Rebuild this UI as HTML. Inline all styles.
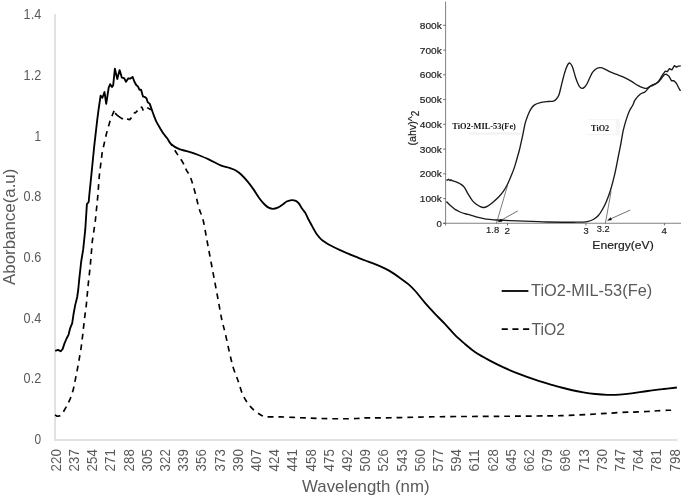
<!DOCTYPE html>
<html><head><meta charset="utf-8"><title>UV-Vis absorbance</title>
<style>
html,body{margin:0;padding:0;background:#fff}
svg{display:block}
text{font-family:"Liberation Sans",sans-serif}
.cal{fill:#595959}
.ins{fill:#1c1c1c;stroke:#1c1c1c;stroke-width:.18px}
.ser{font-family:"Liberation Serif",serif;font-weight:bold;fill:#111}
</style></head><body>
<svg width="685" height="498" viewBox="0 0 685 498">
<rect width="685" height="498" fill="#fff"/>

<path d="M55.05,14.3 V440.6" stroke="#d9d9d9" stroke-width="1.5" fill="none"/>
<path d="M54.3,439.9 H677.5" stroke="#d9d9d9" stroke-width="1.5" fill="none"/>
<text class="cal" x="41.2" y="19.20" font-size="14.2" text-anchor="end" textLength="17.6" lengthAdjust="spacingAndGlyphs">1.4</text>
<text class="cal" x="41.2" y="79.92" font-size="14.2" text-anchor="end" textLength="17.6" lengthAdjust="spacingAndGlyphs">1.2</text>
<text class="cal" x="41.2" y="140.63" font-size="14.2" text-anchor="end" textLength="6.6" lengthAdjust="spacingAndGlyphs">1</text>
<text class="cal" x="41.2" y="201.34" font-size="14.2" text-anchor="end" textLength="17.6" lengthAdjust="spacingAndGlyphs">0.8</text>
<text class="cal" x="41.2" y="262.06" font-size="14.2" text-anchor="end" textLength="17.6" lengthAdjust="spacingAndGlyphs">0.6</text>
<text class="cal" x="41.2" y="322.77" font-size="14.2" text-anchor="end" textLength="17.6" lengthAdjust="spacingAndGlyphs">0.4</text>
<text class="cal" x="41.2" y="383.49" font-size="14.2" text-anchor="end" textLength="17.6" lengthAdjust="spacingAndGlyphs">0.2</text>
<text class="cal" x="41.2" y="444.20" font-size="14.2" text-anchor="end" textLength="6.6" lengthAdjust="spacingAndGlyphs">0</text>
<text class="cal" font-size="14.2" transform="translate(60.80,471.4) rotate(-90)" textLength="22.2" lengthAdjust="spacingAndGlyphs">220</text>
<text class="cal" font-size="14.2" transform="translate(79.00,471.4) rotate(-90)" textLength="22.2" lengthAdjust="spacingAndGlyphs">237</text>
<text class="cal" font-size="14.2" transform="translate(97.20,471.4) rotate(-90)" textLength="22.2" lengthAdjust="spacingAndGlyphs">254</text>
<text class="cal" font-size="14.2" transform="translate(115.40,471.4) rotate(-90)" textLength="22.2" lengthAdjust="spacingAndGlyphs">271</text>
<text class="cal" font-size="14.2" transform="translate(133.60,471.4) rotate(-90)" textLength="22.2" lengthAdjust="spacingAndGlyphs">288</text>
<text class="cal" font-size="14.2" transform="translate(151.80,471.4) rotate(-90)" textLength="22.2" lengthAdjust="spacingAndGlyphs">305</text>
<text class="cal" font-size="14.2" transform="translate(170.00,471.4) rotate(-90)" textLength="22.2" lengthAdjust="spacingAndGlyphs">322</text>
<text class="cal" font-size="14.2" transform="translate(188.20,471.4) rotate(-90)" textLength="22.2" lengthAdjust="spacingAndGlyphs">339</text>
<text class="cal" font-size="14.2" transform="translate(206.40,471.4) rotate(-90)" textLength="22.2" lengthAdjust="spacingAndGlyphs">356</text>
<text class="cal" font-size="14.2" transform="translate(224.60,471.4) rotate(-90)" textLength="22.2" lengthAdjust="spacingAndGlyphs">373</text>
<text class="cal" font-size="14.2" transform="translate(242.80,471.4) rotate(-90)" textLength="22.2" lengthAdjust="spacingAndGlyphs">390</text>
<text class="cal" font-size="14.2" transform="translate(261.00,471.4) rotate(-90)" textLength="22.2" lengthAdjust="spacingAndGlyphs">407</text>
<text class="cal" font-size="14.2" transform="translate(279.20,471.4) rotate(-90)" textLength="22.2" lengthAdjust="spacingAndGlyphs">424</text>
<text class="cal" font-size="14.2" transform="translate(297.40,471.4) rotate(-90)" textLength="22.2" lengthAdjust="spacingAndGlyphs">441</text>
<text class="cal" font-size="14.2" transform="translate(315.60,471.4) rotate(-90)" textLength="22.2" lengthAdjust="spacingAndGlyphs">458</text>
<text class="cal" font-size="14.2" transform="translate(333.80,471.4) rotate(-90)" textLength="22.2" lengthAdjust="spacingAndGlyphs">475</text>
<text class="cal" font-size="14.2" transform="translate(352.00,471.4) rotate(-90)" textLength="22.2" lengthAdjust="spacingAndGlyphs">492</text>
<text class="cal" font-size="14.2" transform="translate(370.20,471.4) rotate(-90)" textLength="22.2" lengthAdjust="spacingAndGlyphs">509</text>
<text class="cal" font-size="14.2" transform="translate(388.40,471.4) rotate(-90)" textLength="22.2" lengthAdjust="spacingAndGlyphs">526</text>
<text class="cal" font-size="14.2" transform="translate(406.60,471.4) rotate(-90)" textLength="22.2" lengthAdjust="spacingAndGlyphs">543</text>
<text class="cal" font-size="14.2" transform="translate(424.80,471.4) rotate(-90)" textLength="22.2" lengthAdjust="spacingAndGlyphs">560</text>
<text class="cal" font-size="14.2" transform="translate(443.00,471.4) rotate(-90)" textLength="22.2" lengthAdjust="spacingAndGlyphs">577</text>
<text class="cal" font-size="14.2" transform="translate(461.20,471.4) rotate(-90)" textLength="22.2" lengthAdjust="spacingAndGlyphs">594</text>
<text class="cal" font-size="14.2" transform="translate(479.40,471.4) rotate(-90)" textLength="22.2" lengthAdjust="spacingAndGlyphs">611</text>
<text class="cal" font-size="14.2" transform="translate(497.60,471.4) rotate(-90)" textLength="22.2" lengthAdjust="spacingAndGlyphs">628</text>
<text class="cal" font-size="14.2" transform="translate(515.80,471.4) rotate(-90)" textLength="22.2" lengthAdjust="spacingAndGlyphs">645</text>
<text class="cal" font-size="14.2" transform="translate(534.00,471.4) rotate(-90)" textLength="22.2" lengthAdjust="spacingAndGlyphs">662</text>
<text class="cal" font-size="14.2" transform="translate(552.20,471.4) rotate(-90)" textLength="22.2" lengthAdjust="spacingAndGlyphs">679</text>
<text class="cal" font-size="14.2" transform="translate(570.40,471.4) rotate(-90)" textLength="22.2" lengthAdjust="spacingAndGlyphs">696</text>
<text class="cal" font-size="14.2" transform="translate(588.60,471.4) rotate(-90)" textLength="22.2" lengthAdjust="spacingAndGlyphs">713</text>
<text class="cal" font-size="14.2" transform="translate(606.80,471.4) rotate(-90)" textLength="22.2" lengthAdjust="spacingAndGlyphs">730</text>
<text class="cal" font-size="14.2" transform="translate(625.00,471.4) rotate(-90)" textLength="22.2" lengthAdjust="spacingAndGlyphs">747</text>
<text class="cal" font-size="14.2" transform="translate(643.20,471.4) rotate(-90)" textLength="22.2" lengthAdjust="spacingAndGlyphs">764</text>
<text class="cal" font-size="14.2" transform="translate(661.40,471.4) rotate(-90)" textLength="22.2" lengthAdjust="spacingAndGlyphs">781</text>
<text class="cal" font-size="14.2" transform="translate(679.60,471.4) rotate(-90)" textLength="22.2" lengthAdjust="spacingAndGlyphs">798</text>
<text class="cal" font-size="16.4" transform="translate(14.9,284.9) rotate(-90)" textLength="116.2" lengthAdjust="spacingAndGlyphs">Aborbance(a.u)</text>
<text class="cal" font-size="16.4" x="302.1" y="491.9" textLength="127.4" lengthAdjust="spacingAndGlyphs">Wavelength (nm)</text>
<path d="M55.00,414.90 L57.10,416.30 L59.70,415.90 L63.10,412.30 L66.10,407.20 L70.10,399.20 L73.20,390.10 L74.70,382.80 L77.20,370.20 L79.20,359.20 L81.20,347.10 L82.70,335.00 L83.20,330.30 L84.70,317.20 L86.30,305.10 L87.50,292.00 L88.30,283.60 L90.30,265.50 L92.30,241.30 L95.30,221.20 L97.90,195.00 L99.20,176.60 L102.20,152.40 L106.30,134.20 L110.30,120.10 L112.60,114.50 L114.10,110.90" stroke="#000" stroke-width="1.65" fill="none" stroke-linejoin="round" stroke-dasharray="5.8 4.95"/>
<path d="M115.1,113.1 L117.3,115.3 L120.5,117.6 L122.3,118.7 L122.9,118.3 M127,119 L129.7,119.6 L131.5,117.6 M133.7,112.4 L135.2,113 L137.5,110.6 M140.7,107.1 L141.9,107.3 L143.3,110.6 M147.2,107.6 L150.9,109.7" stroke="#000" stroke-width="1.65" fill="none" stroke-linejoin="round"/>
<path d="M671.10,410.20 C670.58,410.22 670.27,410.20 668.00,410.30 C665.73,410.40 661.00,410.60 657.50,410.80 C654.00,411.00 651.08,411.28 647.00,411.50 C642.92,411.72 636.23,412.00 633.00,412.10 C629.77,412.20 631.87,411.90 627.60,412.10 C623.33,412.30 614.12,412.90 607.40,413.30 C600.68,413.70 594.02,414.13 587.30,414.50 C580.58,414.87 573.82,415.27 567.10,415.50 C560.38,415.73 558.18,415.77 547.00,415.90 C535.82,416.03 517.83,416.17 500.00,416.30 C482.17,416.43 456.67,416.48 440.00,416.70 C423.33,416.92 410.33,417.40 400.00,417.60 C389.67,417.80 383.85,417.85 378.00,417.90 C372.15,417.95 368.43,417.80 364.90,417.90 C361.37,418.00 360.83,418.35 356.80,418.50 C352.77,418.65 346.73,418.80 340.70,418.80 C334.67,418.80 327.32,418.68 320.60,418.50 C313.88,418.32 307.12,417.97 300.40,417.70 C293.68,417.43 286.00,417.07 280.30,416.90 C274.60,416.73 269.52,417.07 266.20,416.70 C262.88,416.33 262.53,415.87 260.40,414.70 C258.27,413.53 255.58,411.72 253.40,409.70 C251.22,407.68 249.15,405.28 247.30,402.60 C245.45,399.92 243.80,397.12 242.30,393.60 C240.80,390.08 239.82,385.87 238.30,381.50 C236.78,377.13 234.72,372.43 233.20,367.40 C231.68,362.37 230.53,357.02 229.20,351.30 C227.87,345.58 226.43,338.37 225.20,333.10 C223.97,327.83 222.95,325.12 221.80,319.70 C220.65,314.28 219.52,307.15 218.30,300.60 C217.08,294.05 215.77,287.12 214.50,280.40 C213.23,273.68 211.97,267.02 210.70,260.30 C209.43,253.58 208.17,246.82 206.90,240.10 C205.63,233.38 204.40,225.25 203.10,220.00 C201.80,214.75 200.27,212.52 199.10,208.60 C197.93,204.68 197.10,200.37 196.10,196.50 C195.10,192.63 194.12,188.77 193.10,185.40 C192.08,182.03 191.18,178.98 190.00,176.30 C188.82,173.62 187.20,171.62 186.00,169.30 C184.80,166.98 184.33,165.05 182.80,162.40 C181.27,159.75 178.73,156.42 176.80,153.40 C174.87,150.38 172.13,145.82 171.20,144.30" stroke="#000" stroke-width="1.65" fill="none" stroke-linejoin="round" stroke-dasharray="5.8 4.95"/>
<path d="M55.20,350.90 L58.10,349.90 L60.60,351.30 L62.60,349.10 L64.60,343.10 L66.60,338.50 L68.60,334.60 L70.10,328.30 L72.20,323.20 L73.70,313.20 L75.20,305.10 L77.20,297.00 L78.20,290.00 L79.20,279.60 L81.20,261.50 L83.20,249.40 L85.30,229.20 L86.90,204.10 L88.70,202.00 L89.30,195.00 L91.20,176.60 L94.20,146.30 L97.20,120.10 L98.60,109.30 L100.60,95.70 L102.40,97.80 L104.50,92.00 L106.20,103.80 L108.70,87.70 L110.20,84.20 L112.00,87.00 L113.20,85.20 L114.90,68.60 L117.30,79.10 L119.60,70.10 L121.80,77.60 L124.10,78.10 L126.00,81.70 L128.30,78.30 L130.40,78.60 L132.60,76.90 L134.40,81.70 L136.40,85.20 L137.90,86.40 L139.40,89.70 L141.10,89.70 L142.90,96.30 L145.50,97.30 L146.60,98.60 L147.60,102.00 L149.80,103.90 L151.60,109.10 C152.32,111.13 153.27,113.92 154.10,116.10 C154.93,118.28 155.60,120.18 156.60,122.20 C157.60,124.22 159.00,126.35 160.10,128.20 C161.20,130.05 162.02,131.62 163.20,133.30 C164.38,134.98 165.87,136.47 167.20,138.30 C168.53,140.13 169.27,142.55 171.20,144.30 C173.13,146.05 175.52,147.47 178.80,148.80 C182.08,150.13 187.85,151.35 190.90,152.30 C193.95,153.25 194.05,153.28 197.10,154.50 C200.15,155.72 205.17,157.73 209.20,159.60 C213.23,161.47 217.95,164.32 221.30,165.70 C224.65,167.08 226.95,167.13 229.30,167.90 C231.65,168.67 233.38,169.17 235.40,170.30 C237.42,171.43 239.38,172.85 241.40,174.70 C243.42,176.55 245.48,178.95 247.50,181.40 C249.52,183.85 251.50,186.55 253.50,189.40 C255.50,192.25 257.65,195.98 259.50,198.50 C261.35,201.02 263.08,202.98 264.60,204.50 C266.12,206.02 267.20,206.88 268.60,207.60 C270.00,208.32 271.48,208.80 273.00,208.80 C274.52,208.80 276.08,208.32 277.70,207.60 C279.32,206.88 281.20,205.52 282.70,204.50 C284.20,203.48 285.18,202.23 286.70,201.50 C288.22,200.77 290.28,200.20 291.80,200.10 C293.32,200.00 294.60,200.32 295.80,200.90 C297.00,201.48 297.97,202.32 299.00,203.60 C300.03,204.88 300.98,207.10 302.00,208.60 C303.02,210.10 304.08,210.92 305.10,212.60 C306.12,214.28 307.10,216.77 308.10,218.70 C309.10,220.63 310.10,222.37 311.10,224.20 C312.10,226.03 313.08,227.93 314.10,229.70 C315.12,231.47 316.02,233.20 317.20,234.80 C318.38,236.40 319.87,238.05 321.20,239.30 C322.53,240.55 323.87,241.38 325.20,242.30 C326.53,243.22 326.72,243.48 329.20,244.80 C331.68,246.12 335.93,248.30 340.10,250.20 C344.27,252.10 349.50,254.28 354.20,256.20 C358.90,258.12 363.93,260.02 368.30,261.70 C372.67,263.38 376.87,264.77 380.40,266.30 C383.93,267.83 386.13,268.88 389.50,270.90 C392.87,272.92 397.42,276.15 400.60,278.40 C403.78,280.65 406.08,282.22 408.60,284.40 C411.12,286.58 413.00,288.47 415.70,291.50 C418.40,294.53 421.62,298.92 424.80,302.60 C427.98,306.28 431.42,310.02 434.80,313.60 C438.18,317.18 441.72,320.50 445.10,324.10 C448.48,327.70 451.75,331.85 455.10,335.20 C458.45,338.55 461.83,341.35 465.20,344.20 C468.57,347.05 471.27,349.60 475.30,352.30 C479.33,355.00 484.70,357.88 489.40,360.40 C494.10,362.92 498.47,365.12 503.50,367.40 C508.53,369.68 514.23,372.02 519.60,374.10 C524.97,376.18 530.33,378.10 535.70,379.90 C541.07,381.70 547.90,383.73 551.80,384.90 C555.70,386.07 555.87,386.05 559.10,386.90 C562.33,387.75 567.17,389.08 571.20,390.00 C575.23,390.92 579.28,391.73 583.30,392.40 C587.32,393.07 591.28,393.60 595.30,394.00 C599.32,394.40 603.37,394.70 607.40,394.80 C611.43,394.90 615.47,394.83 619.50,394.60 C623.53,394.37 626.90,394.00 631.60,393.40 C636.30,392.80 642.33,391.73 647.70,391.00 C653.07,390.27 658.93,389.58 663.80,389.00 C668.67,388.42 674.72,387.75 676.90,387.50" stroke="#000" stroke-width="1.85" fill="none" stroke-linejoin="round"/>
<path d="M501.7,291 H528.4" stroke="#000" stroke-width="1.8"/>
<path d="M501.7,329.1 H529.2" stroke="#000" stroke-width="1.8" stroke-dasharray="6.1 4.6"/>
<text class="cal" font-size="16.4" x="531" y="296.4" textLength="121.2" lengthAdjust="spacingAndGlyphs">TiO2-MIL-53(Fe)</text>
<text class="cal" font-size="16.4" x="531.4" y="334.8" textLength="33.6" lengthAdjust="spacingAndGlyphs">TiO2</text>
<g>
<path d="M445.6,1.6 V225.6" stroke="#6a6a6a" stroke-width="0.85" fill="none"/>
<path d="M443.2,223.25 H681" stroke="#6a6a6a" stroke-width="0.85" fill="none"/>
<path d="M443.2,223.3 H445.6" stroke="#555" stroke-width="0.85"/>
<text class="ins" font-size="9.5" x="441.8" y="226.9" text-anchor="end" textLength="5.4" lengthAdjust="spacingAndGlyphs">0</text>
<path d="M443.2,198.6 H445.6" stroke="#555" stroke-width="0.85"/>
<text class="ins" font-size="9.5" x="441.8" y="202.2" text-anchor="end" textLength="22" lengthAdjust="spacingAndGlyphs">100k</text>
<path d="M443.2,173.8 H445.6" stroke="#555" stroke-width="0.85"/>
<text class="ins" font-size="9.5" x="441.8" y="177.4" text-anchor="end" textLength="22" lengthAdjust="spacingAndGlyphs">200k</text>
<path d="M443.2,149.1 H445.6" stroke="#555" stroke-width="0.85"/>
<text class="ins" font-size="9.5" x="441.8" y="152.7" text-anchor="end" textLength="22" lengthAdjust="spacingAndGlyphs">300k</text>
<path d="M443.2,124.3 H445.6" stroke="#555" stroke-width="0.85"/>
<text class="ins" font-size="9.5" x="441.8" y="127.9" text-anchor="end" textLength="22" lengthAdjust="spacingAndGlyphs">400k</text>
<path d="M443.2,99.6 H445.6" stroke="#555" stroke-width="0.85"/>
<text class="ins" font-size="9.5" x="441.8" y="103.2" text-anchor="end" textLength="22" lengthAdjust="spacingAndGlyphs">500k</text>
<path d="M443.2,74.8 H445.6" stroke="#555" stroke-width="0.85"/>
<text class="ins" font-size="9.5" x="441.8" y="78.4" text-anchor="end" textLength="22" lengthAdjust="spacingAndGlyphs">600k</text>
<path d="M443.2,50.1 H445.6" stroke="#555" stroke-width="0.85"/>
<text class="ins" font-size="9.5" x="441.8" y="53.7" text-anchor="end" textLength="22" lengthAdjust="spacingAndGlyphs">700k</text>
<path d="M443.2,25.3 H445.6" stroke="#555" stroke-width="0.85"/>
<text class="ins" font-size="9.5" x="441.8" y="28.9" text-anchor="end" textLength="22" lengthAdjust="spacingAndGlyphs">800k</text>
<path d="M507.5,223.3 V225.4" stroke="#555" stroke-width="0.9"/>
<path d="M585.9,223.3 V225.4" stroke="#555" stroke-width="0.9"/>
<path d="M664.4,223.3 V225.4" stroke="#555" stroke-width="0.9"/>
<text class="ins" font-size="9.4" x="486.1" y="232.6" textLength="13.1" lengthAdjust="spacingAndGlyphs">1.8</text>
<text class="ins" font-size="9.5" x="504.5" y="233.8" textLength="5.5" lengthAdjust="spacingAndGlyphs">2</text>
<text class="ins" font-size="9.5" x="583.4" y="233.6" textLength="5.2" lengthAdjust="spacingAndGlyphs">3</text>
<text class="ins" font-size="9.4" x="596.8" y="232.2" textLength="12.9" lengthAdjust="spacingAndGlyphs">3.2</text>
<text class="ins" font-size="9.5" x="661.6" y="233.6" textLength="5.4" lengthAdjust="spacingAndGlyphs">4</text>
<text class="ins" font-size="10.6" x="592.3" y="249" textLength="61.4" lengthAdjust="spacingAndGlyphs">Energy(eV)</text>
<text class="ins" font-size="10.7" transform="translate(416.1,145.5) rotate(-90)">(ahv)^<tspan dy="2.8" font-size="10">2</tspan></text>
<path d="M469.2,133.5 H520.8" stroke="#f1f1f1" stroke-width="2" fill="none"/><path d="M521,120.3 V134.5" stroke="#f4f4f4" stroke-width="1" fill="none"/>
<rect x="615.8" y="119.6" width="4" height="15.1" fill="#f6f6f6"/><path d="M586.9,119.7 H619.8 M586.9,134.6 H619.8" stroke="#f3f3f3" stroke-width="1" fill="none"/>
<text class="ser" font-size="9.2" x="452.3" y="128.8" textLength="63.6" lengthAdjust="spacingAndGlyphs">TiO2-MIL-53(Fe)</text>
<text class="ser" font-size="9.2" x="591.1" y="130.7" textLength="18.1" lengthAdjust="spacingAndGlyphs">TiO2</text>
<path d="M446.50,180.50 L447.10,180.10 L448.50,179.30 L450.00,180.60 L451.00,179.80 L452.10,180.70 L456.10,181.80 C457.43,182.32 458.75,182.90 460.10,183.80 C461.45,184.70 462.85,185.47 464.20,187.20 C465.55,188.93 466.87,192.02 468.20,194.20 C469.53,196.38 470.85,198.62 472.20,200.30 C473.55,201.98 474.95,203.23 476.30,204.30 C477.65,205.37 479.10,206.17 480.30,206.70 C481.50,207.23 482.33,207.57 483.50,207.50 C484.67,207.43 485.82,207.10 487.30,206.30 C488.78,205.50 490.55,204.20 492.40,202.70 C494.25,201.20 496.55,199.22 498.40,197.30 C500.25,195.38 501.98,193.38 503.50,191.20 C505.02,189.02 506.17,186.88 507.50,184.20 C508.83,181.52 510.33,177.95 511.50,175.10 C512.67,172.25 513.65,169.62 514.50,167.10 C515.35,164.58 515.78,162.85 516.60,160.00 C517.42,157.15 518.73,152.53 519.40,150.00 C520.07,147.47 520.05,147.25 520.60,144.80 C521.15,142.35 521.93,138.90 522.70,135.30 C523.47,131.70 524.32,126.57 525.20,123.20 C526.08,119.83 527.07,117.43 528.00,115.10 C528.93,112.77 529.77,110.87 530.80,109.20 C531.83,107.53 532.62,106.20 534.20,105.10 C535.78,104.00 537.95,103.20 540.30,102.60 C542.65,102.00 546.12,101.75 548.30,101.50 C550.48,101.25 552.05,101.52 553.40,101.10 C554.75,100.68 555.48,100.02 556.40,99.00 C557.32,97.98 558.07,97.28 558.90,95.00 C559.73,92.72 560.47,88.93 561.40,85.30 C562.33,81.67 563.48,76.57 564.50,73.20 C565.52,69.83 566.60,66.78 567.50,65.10 C568.40,63.42 569.07,62.77 569.90,63.10 C570.73,63.43 571.57,64.75 572.50,67.10 C573.43,69.45 574.55,74.35 575.50,77.20 C576.45,80.05 577.42,82.50 578.20,84.20 C578.98,85.90 579.53,86.70 580.20,87.40 C580.87,88.10 581.45,88.47 582.20,88.40 C582.95,88.33 583.85,87.87 584.70,87.00 C585.55,86.13 586.42,84.83 587.30,83.20 C588.18,81.57 589.10,79.03 590.00,77.20 C590.90,75.37 591.58,73.65 592.70,72.20 C593.82,70.75 595.37,69.25 596.70,68.50 C598.03,67.75 599.35,67.60 600.70,67.70 C602.05,67.80 603.12,68.35 604.80,69.10 C606.48,69.85 608.93,71.35 610.80,72.20 C612.67,73.05 613.78,73.33 616.00,74.20 C618.22,75.07 621.58,76.23 624.10,77.40 C626.62,78.57 628.75,79.82 631.10,81.20 C633.45,82.58 636.02,84.55 638.20,85.70 C640.38,86.85 642.70,87.70 644.20,88.10 C645.70,88.50 646.03,88.50 647.20,88.10 C648.37,87.70 649.68,86.52 651.20,85.70 C652.72,84.88 654.95,84.12 656.30,83.20 C657.65,82.28 658.30,81.53 659.30,80.20 C660.30,78.87 661.30,76.72 662.30,75.20 L665.30,71.10 L667.40,71.70 L669.40,68.60 L671.90,69.90 L674.40,65.60 L676.40,67.10 L678.40,66.10 L680.80,65.90" stroke="#1a1a1a" stroke-width="1.35" fill="none" stroke-linejoin="round"/>
<path d="M446.50,201.50 L447.10,202.30 L450.10,205.30 L455.10,209.40 C456.77,210.52 458.25,211.23 460.10,212.00 C461.95,212.77 464.55,213.53 466.20,214.00 C467.85,214.47 468.02,214.23 470.00,214.80 C471.98,215.37 475.42,216.67 478.10,217.40 C480.78,218.13 483.08,218.77 486.10,219.20 C489.12,219.63 492.17,219.75 496.20,220.00 C500.23,220.25 503.17,220.42 510.30,220.70 C517.43,220.98 532.88,221.48 539.00,221.70 C545.12,221.92 540.63,221.92 547.00,222.00 C553.37,222.08 570.48,222.27 577.20,222.20 C583.92,222.13 584.62,222.05 587.30,221.60 C589.98,221.15 591.45,220.52 593.30,219.50 C595.15,218.48 596.88,217.17 598.40,215.50 C599.92,213.83 601.07,211.85 602.40,209.50 C603.73,207.15 605.05,204.60 606.40,201.40 C607.75,198.20 609.15,194.67 610.50,190.30 C611.85,185.93 613.18,180.92 614.50,175.20 C615.82,169.48 617.33,161.28 618.40,156.00 C619.47,150.72 620.08,147.80 620.90,143.50 C621.72,139.20 622.38,134.27 623.30,130.20 C624.22,126.13 625.38,122.30 626.40,119.10 C627.42,115.90 628.32,113.35 629.40,111.00 C630.48,108.65 631.95,106.87 632.90,105.00 C633.85,103.13 633.88,101.58 635.10,99.80 C636.32,98.02 638.52,95.63 640.20,94.30 C641.88,92.97 643.70,92.97 645.20,91.80 C646.70,90.63 647.85,88.40 649.20,87.30 C650.55,86.20 651.78,86.05 653.30,85.20 C654.82,84.35 656.97,83.28 658.30,82.20 C659.63,81.12 660.30,79.95 661.30,78.70 C662.30,77.45 663.45,75.45 664.30,74.70 L666.40,74.20 L668.90,76.20 L671.40,80.70 L673.90,80.70 L676.40,83.20 L678.40,87.30 L680.50,90.80" stroke="#1a1a1a" stroke-width="1.35" fill="none" stroke-linejoin="round"/>
<path d="M496.4,223.4 L507.6,185.2" stroke="#444" stroke-width="0.7" fill="none"/>
<path d="M605.4,223.2 L611.1,191.3" stroke="#444" stroke-width="0.7" fill="none"/>
<path d="M517.8,210.9 L500.6,220.5" stroke="#333" stroke-width="0.7" fill="none"/>
<path d="M498.3,221.7 L500.9,218.9 L502.0,221.4 Z" fill="#000" stroke="#000" stroke-width="0.5" stroke-linejoin="round"/>
<path d="M630.2,210.1 L609.5,219.4" stroke="#333" stroke-width="0.7" fill="none"/>
<path d="M607.5,220.4 L610.5,217.5 L611.6,220.1 Z" fill="#000" stroke="#000" stroke-width="0.3" stroke-linejoin="round"/>
</g>
</svg></body></html>
